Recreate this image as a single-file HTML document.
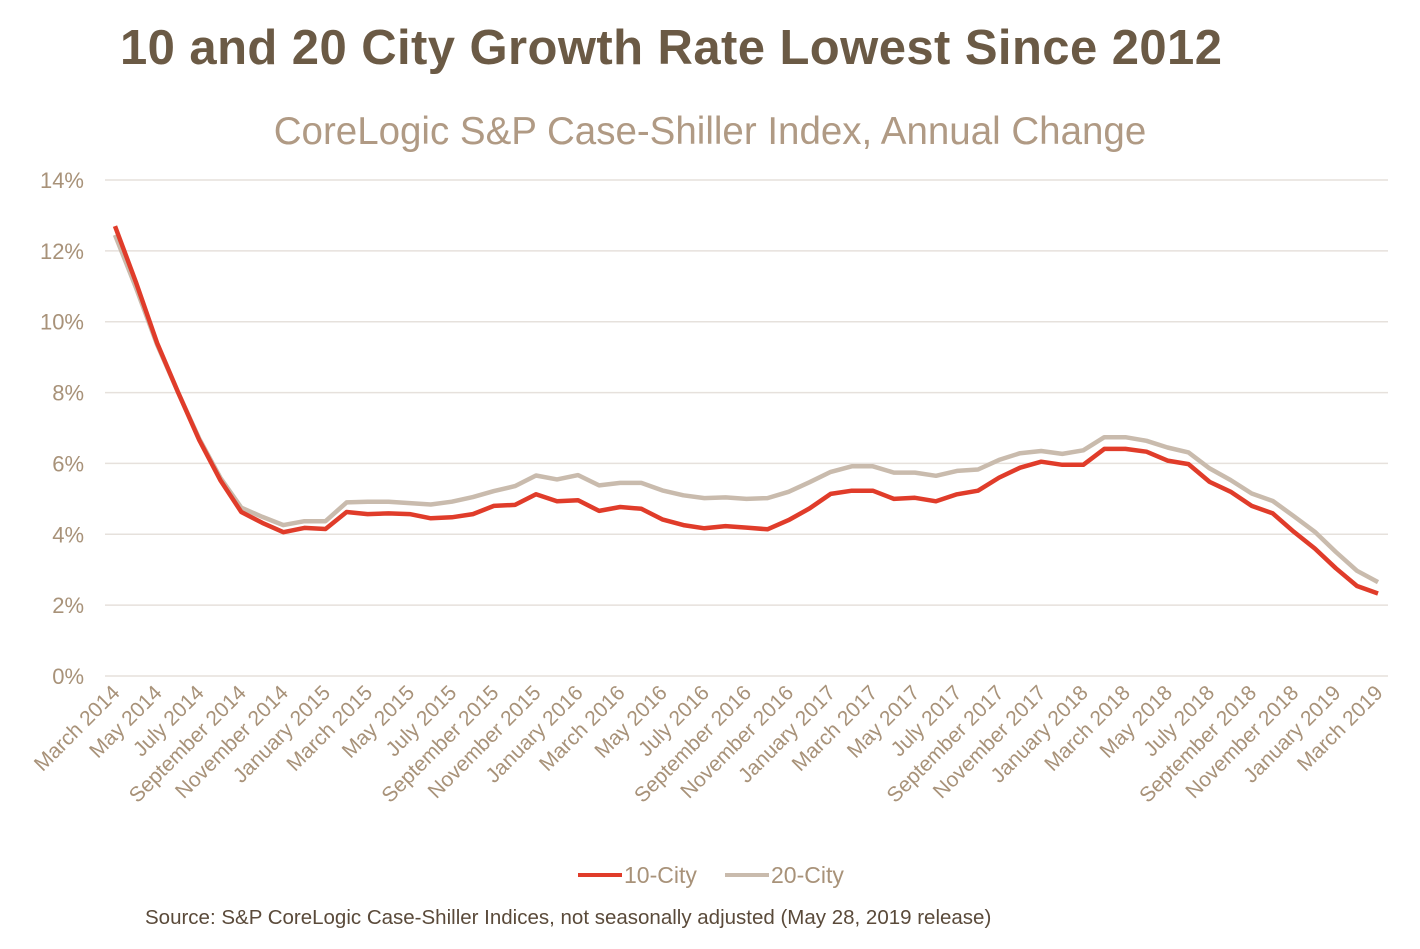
<!DOCTYPE html>
<html><head><meta charset="utf-8"><style>
body{margin:0;background:#fff;width:1420px;height:944px;overflow:hidden;font-family:"Liberation Sans",Arial,sans-serif}
</style></head><body>
<svg width="1420" height="944" viewBox="0 0 1420 944">
<text x="120" y="64" font-size="49" font-weight="bold" fill="#6b5a45" textLength="1102">10 and 20 City Growth Rate Lowest Since 2012</text>
<text x="710" y="144" font-size="38.5" fill="#b09a84" text-anchor="middle">CoreLogic S&amp;P Case-Shiller Index, Annual Change</text>
<g id="grid"></g><g id="ylabels"></g><g id="xlabels"></g><g id="lines"></g>
<g>
<line x1="578" y1="875" x2="622" y2="875" stroke="#e03c2a" stroke-width="4"/>
<text x="624" y="883" font-size="23" fill="#a89279">10-City</text>
<line x1="725" y1="875" x2="769" y2="875" stroke="#c9bbad" stroke-width="4"/>
<text x="771" y="883" font-size="23" fill="#a89279">20-City</text>
</g>
<text x="145" y="924" font-size="20.5" fill="#5a4a3a">Source:  S&amp;P CoreLogic Case-Shiller Indices, not seasonally adjusted (May 28, 2019 release)</text>
</svg>
<script>
const months=["January","February","March","April","May","June","July","August","September","October","November","December"];
const yTicks=[0,2,4,6,8,10,12,14];
const city10=[12.7,11.1,9.4,8.0,6.66,5.53,4.63,4.32,4.06,4.18,4.15,4.63,4.57,4.59,4.57,4.45,4.48,4.57,4.8,4.83,5.13,4.93,4.96,4.66,4.77,4.72,4.42,4.26,4.17,4.23,4.19,4.14,4.4,4.73,5.14,5.23,5.23,5.0,5.03,4.93,5.13,5.23,5.6,5.88,6.05,5.96,5.96,6.41,6.41,6.33,6.08,5.98,5.48,5.2,4.8,4.59,4.07,3.6,3.04,2.54,2.33];
const city20=[12.45,10.95,9.35,8.0,6.7,5.6,4.75,4.49,4.26,4.37,4.37,4.9,4.92,4.92,4.88,4.84,4.92,5.05,5.22,5.36,5.66,5.55,5.67,5.38,5.45,5.45,5.24,5.1,5.02,5.04,5.0,5.02,5.2,5.47,5.76,5.92,5.92,5.74,5.74,5.65,5.79,5.83,6.1,6.29,6.35,6.27,6.37,6.74,6.74,6.64,6.45,6.31,5.86,5.53,5.15,4.94,4.51,4.07,3.5,2.97,2.65];
const startMonth=2,startYear=2014;
const ns="http://www.w3.org/2000/svg";
const X=i=>115+i*(1378-115)/(city10.length-1);
const Y=v=>676-v*(676-180)/14;
function mk(t,a,p){const e=document.createElementNS(ns,t);for(const k in a)e.setAttribute(k,a[k]);document.getElementById(p).appendChild(e);return e;}
yTicks.forEach(v=>{
  const l=mk("line",{x1:105,x2:1388,y1:Y(v),y2:Y(v),stroke:"#e6e1dc","stroke-width":1.5},"grid");
  
  
  const t=mk("text",{x:84,y:Y(v)+8,"font-size":22,fill:"#a89279","text-anchor":"end"},"ylabels");
  t.textContent=v+"%";
  
  
});
for(let i=0;i<city10.length;i+=2){
  const m=(startMonth+i)%12,yr=startYear+Math.floor((startMonth+i)/12);
  const x=X(i)+6,y=694;
  const t=mk("text",{x:x,y:y,"font-size":21,fill:"#a89279","text-anchor":"end",transform:`rotate(-45 ${x} ${y})`},"xlabels");
  t.textContent=months[m]+" "+yr;
  
  
}
function line(d,c,n){
  const p=mk("polyline",{points:d.map((v,i)=>X(i).toFixed(1)+","+Y(v).toFixed(1)).join(" "),fill:"none",stroke:c,"stroke-width":4.5,"stroke-linejoin":"round"},"lines");
  
  
}
line(city20,"#c9bbad","series-20-city");
line(city10,"#e03c2a","series-10-city");
</script>
</body></html>
